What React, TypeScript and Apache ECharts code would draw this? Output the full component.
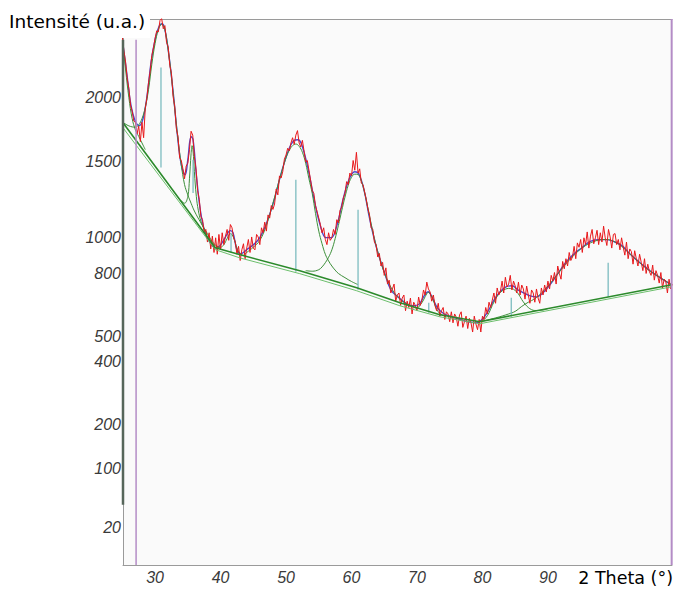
import { useEffect, useRef } from 'react';
import * as echarts from 'echarts';

// ---- axis ranges (2 Theta in degrees, intensity on a square-root scale) ----
const X_MIN = 25.1;
const X_MAX = 108.95;
const Y_MIN_SQRT = 1.0;
const Y_MAX_SQRT = 52.1;

// ---- tick labels ----
const yTicks = [20, 100, 200, 400, 500, 800, 1000, 1500, 2000];
const xTicks = [30, 40, 50, 60, 70, 80, 90];

// ---- observed pattern (red), 25.00° to 109.00° every 0.25° ----
const OBS_START = 25.0;
const OBS_STEP = 0.25;
const observed = [
  2540, 2410, 2310, 2160, 2080, 1940, 1890, 1810, 1800, 1710, 1770, 1650, 1800, 1680, 1910, 2000, 2130, 2230, 2370, 2440, 2530,
  2600, 2590, 2700, 2720, 2620, 2650, 2490, 2450, 2280, 2210, 2010, 1930, 1750, 1690, 1530, 1510, 1450, 1380, 1470, 1490,
  1590, 1730, 1700, 1540, 1450, 1300, 1240, 1130, 1110, 1030, 1050, 975, 1030, 935, 1010, 915, 1000, 905, 1020, 930,
  1030, 960, 1010, 1050, 985, 1080, 1060, 1000, 975, 905, 950, 870, 930, 965, 880, 940, 990, 915, 1005, 940,
  930, 1020, 1005, 960, 1060, 1030, 1095, 1040, 1140, 1120, 1200, 1175, 1210, 1310, 1270, 1400, 1385, 1430, 1520, 1550,
  1600, 1580, 1640, 1680, 1630, 1700, 1735, 1640, 1610, 1660, 1580, 1500, 1510, 1440, 1370, 1300, 1280, 1200, 1160, 1120,
  1080, 1030, 1060, 990, 960, 1030, 985, 1000, 1050, 1020, 1110, 1090, 1170, 1190, 1250, 1280, 1360, 1340, 1420, 1400,
  1510, 1440, 1570, 1420, 1450, 1350, 1340, 1290, 1240, 1180, 1140, 1060, 1050, 975, 960, 890, 910, 840, 860, 790,
  830, 745, 765, 700, 720, 745, 660, 690, 700, 640, 675, 690, 615, 660, 630, 675, 600, 655, 640, 615,
  680, 640, 665, 715, 690, 755, 720, 705, 660, 690, 640, 615, 650, 590, 615, 630, 575, 610, 600, 565,
  610, 560, 600, 585, 545, 595, 610, 540, 565, 590, 535, 580, 560, 520, 590, 555, 530, 575, 520, 590,
  575, 630, 600, 655, 630, 665, 700, 650, 725, 690, 710, 760, 700, 780, 730, 745, 790, 715, 760, 735,
  700, 755, 690, 740, 720, 670, 735, 690, 650, 715, 700, 655, 720, 675, 650, 725, 690, 740, 705, 760,
  720, 790, 760, 805, 745, 840, 800, 770, 865, 825, 880, 840, 915, 870, 890, 950, 880, 970, 945, 990,
  915, 1000, 960, 1035, 940, 1010, 1050, 965, 1000, 1045, 960, 1030, 975, 1070, 1000, 955, 1050, 1005, 940, 1020,
  1025, 960, 990, 930, 1000, 945, 900, 975, 880, 935, 920, 850, 925, 880, 840, 905, 860, 815, 880, 800,
  850, 810, 790, 845, 765, 815, 790, 750, 805, 725, 770, 760, 700, 770, 720, 745,
];

// ---- calculated profile (blue) [2θ, intensity] ----
const fitCurve = [
  [25.1, 2470], [25.7, 2199], [26.3, 1943], [27.0, 1806], [27.6, 1774], [28.2, 1838], [28.8, 2027], [29.4, 2314],
  [30.0, 2517], [30.6, 2641], [31.1, 2669], [31.5, 2612], [32.1, 2378], [32.8, 2027], [33.4, 1703], [34.0, 1479],
  [34.6, 1408], [35.0, 1516], [35.5, 1688], [35.8, 1665], [36.3, 1408], [36.9, 1173], [37.6, 1036], [38.4, 971],
  [39.2, 942], [39.9, 954], [40.7, 1001], [41.5, 1043], [41.9, 1030], [42.5, 931], [43.1, 908], [44.0, 931],
  [45.0, 959], [46.0, 1001], [47.1, 1097], [48.2, 1238], [49.2, 1408], [50.3, 1575], [51.2, 1658], [51.8, 1665],
  [52.4, 1627], [53.4, 1443], [54.3, 1238], [55.2, 1079], [56.1, 1001], [56.9, 1001], [57.8, 1079], [58.7, 1238],
  [59.6, 1373], [60.5, 1429], [61.1, 1415], [61.9, 1305], [62.8, 1110], [63.9, 931], [65.0, 809], [66.0, 716],
  [67.1, 681], [68.2, 652], [69.2, 638], [70.2, 643], [71.1, 686], [71.7, 706], [72.3, 681], [73.1, 629],
  [74.1, 601], [75.3, 587], [76.6, 574], [77.8, 565], [79.0, 560], [79.9, 574], [80.8, 610], [81.8, 667],
  [82.7, 706], [83.6, 731], [84.5, 736], [85.4, 716], [86.3, 701], [87.3, 686], [88.2, 681], [89.1, 696],
  [90.3, 741], [91.5, 799], [92.7, 858], [94.0, 908], [95.2, 942], [96.4, 977], [97.6, 989], [98.9, 989],
  [100.1, 977], [101.3, 954], [102.5, 908], [103.7, 869], [105.0, 831], [106.2, 799], [107.4, 772], [108.9, 741],
];

// ---- backgrounds (green) ----
const bgMain = [[25.1, 1797], [39.2, 942], [43.0, 902], [52.1, 815], [60.8, 726], [67.4, 652], [73.5, 596], [79.6, 565], [108.9, 741]];
const bgAlt = [[25.1, 1757], [39.2, 931], [43.0, 884], [52.1, 799], [60.8, 711], [67.4, 638], [73.5, 587], [79.6, 556], [108.9, 731]];

// ---- individual peaks on background (green) ----
const peak24 = [[25.1, 2465], [25.5, 2240], [26.0, 2000], [26.5, 1830], [27.0, 1740], [27.5, 1690], [28.0, 1640], [28.5, 1590]];
const peak31 = [
  [25.1, 1800], [26.0, 1772], [27.0, 1762], [27.5, 1780], [28.0, 1830], [28.5, 1920], [29.0, 2070], [29.5, 2290],
  [30.0, 2480], [30.5, 2610], [31.0, 2665], [31.5, 2610], [32.0, 2420], [32.5, 2180], [33.0, 1910], [33.5, 1670],
  [34.0, 1480], [34.5, 1340], [35.0, 1270], [35.5, 1215], [36.0, 1165], [37.0, 1090], [38.0, 1025], [39.0, 965], [40.0, 940],
];
const peak35 = [
  [34.0, 1232], [34.5, 1215], [35.0, 1260], [35.25, 1380], [35.5, 1560], [35.65, 1620], [35.8, 1580], [36.0, 1430],
  [36.3, 1260], [36.6, 1170], [37.0, 1100], [37.5, 1050], [38.0, 1015],
];
const peak41 = [[39.5, 946], [40.0, 945], [40.5, 960], [41.0, 995], [41.5, 1025], [42.0, 1000], [42.5, 940], [43.0, 908], [43.5, 898]];
const peak51 = [
  [43.5, 900], [44.0, 915], [45.0, 945], [46.0, 985], [47.0, 1075], [48.0, 1215], [49.0, 1375], [50.0, 1530],
  [50.5, 1585], [51.0, 1620], [51.5, 1632], [52.0, 1615], [52.5, 1570], [53.0, 1490], [53.5, 1380], [54.0, 1280],
  [54.5, 1150], [55.0, 1040], [55.5, 965], [56.0, 905], [56.5, 868], [57.0, 840], [57.5, 818], [58.0, 800],
  [59.0, 778], [60.0, 758], [61.0, 742],
];
const peak61 = [
  [53.0, 815], [54.0, 812], [55.0, 820], [55.5, 835], [56.0, 858], [56.5, 888], [57.0, 930], [57.5, 995],
  [58.0, 1075], [58.5, 1165], [59.0, 1255], [59.5, 1335], [60.0, 1390], [60.5, 1412], [61.0, 1410], [61.5, 1365],
  [62.0, 1285], [62.5, 1185], [63.0, 1085], [63.5, 995], [64.0, 920], [64.5, 860], [65.0, 805], [66.0, 730],
  [67.0, 682], [68.0, 655], [69.0, 640],
];
const peak72 = [[69.5, 630], [70.0, 628], [70.5, 642], [71.0, 666], [71.5, 697], [71.75, 703], [72.0, 696], [72.5, 662], [73.0, 622], [73.5, 602], [74.0, 594]];
const peak85 = [
  [79.5, 566], [80.0, 570], [80.5, 582], [81.0, 605], [81.5, 640], [82.0, 670], [82.5, 695], [83.0, 710],
  [83.5, 719], [84.0, 723], [84.5, 722], [85.0, 712], [85.5, 695], [86.0, 668], [86.5, 646], [87.0, 630],
  [87.5, 620], [88.0, 616], [89.0, 617], [90.0, 625],
];
const peak99 = [
  [79.6, 565], [82.0, 582], [84.0, 600], [85.0, 612], [86.0, 635], [87.0, 655], [88.0, 672], [89.0, 700],
  [90.0, 735], [91.0, 775], [92.0, 820], [93.0, 862], [94.0, 900], [95.0, 935], [96.0, 960], [97.0, 978],
  [98.0, 988], [99.0, 990], [100.0, 980], [101.0, 958], [102.0, 925], [103.0, 890], [104.0, 858], [105.0, 828],
  [106.0, 803], [107.0, 782], [108.0, 760], [108.9, 742],
];
const peakCurves = [peak24, peak31, peak35, peak41, peak51, peak61, peak72, peak85, peak99];

// ---- peak position sticks (cyan): [2θ, base intensity, top intensity] ----
const sticks = [
  [30.9, 1460, 2261], [35.8, 1283, 1516], [41.6, 913, 1030], [51.5, 809, 1373],
  [61.0, 716, 1173], [71.8, 605, 652], [84.4, 587, 677], [99.2, 681, 858],
];

// ---- range markers ----
const markerLeft = [[27.1, 1], [27.1, 2517]];
const markerRight = [[108.9, 1], [108.9, 2715]];
const leftBar = [[25.1, 44], [25.1, 2517]];

const toSq = (pts: number[][]) => pts.map((p) => [p[0], Math.sqrt(p[1])]);

const lineSeries = (data: number[][], color: string, width: number, z: number, smooth: boolean | number = false, clip = true) => ({
  type: 'line',
  data: toSq(data),
  showSymbol: false,
  symbol: 'none',
  smooth,
  clip,
  silent: true,
  z,
  lineStyle: { color, width },
  itemStyle: { color },
});

export default function App() {
  const ref = useRef<HTMLDivElement>(null);

  useEffect(() => {
    if (!ref.current) return;
    const chart = echarts.init(ref.current, undefined, { renderer: 'svg' });

    const obsData = observed.map((v, i) => [OBS_START + i * OBS_STEP, Math.sqrt(v)]);

    const series: any[] = [
      lineSeries(fitCurve, '#4a48d2', 1.4, 2, 0.4),
      ...peakCurves.map((c) => lineSeries(c, '#3d8f3a', 1, 3, 0.4)),
      {
        type: 'line',
        data: obsData,
        showSymbol: false,
        symbol: 'none',
        silent: true,
        z: 4,
        lineStyle: { color: '#e8181b', width: 1 },
        itemStyle: { color: '#e8181b' },
      },
      lineSeries(bgAlt, '#6cbf6c', 1, 5),
      lineSeries(bgMain, '#2b8a2b', 1.6, 5),
      {
        type: 'custom',
        coordinateSystem: 'cartesian2d',
        silent: true,
        z: 5,
        data: sticks.map((s) => [s[0], Math.sqrt(s[1]), Math.sqrt(s[2])]),
        encode: { x: 0, y: [1, 2] },
        renderItem: (_p: any, api: any) => {
          const a = api.coord([api.value(0), api.value(1)]);
          const b = api.coord([api.value(0), api.value(2)]);
          return {
            type: 'line',
            shape: { x1: a[0], y1: a[1], x2: b[0], y2: b[1] },
            style: { stroke: '#7dbcc0', lineWidth: 1.3 },
          };
        },
      },
      lineSeries(markerLeft, '#b48cc6', 1.5, 6),
      lineSeries(markerRight, '#b48cc6', 2, 6, false, false),
      lineSeries(leftBar, '#56665a', 2.5, 6, false, false),
      {
        type: 'custom',
        coordinateSystem: 'cartesian2d',
        silent: true,
        clip: false,
        z: 10,
        data: yTicks.map((v) => [X_MIN, Math.sqrt(v), v]),
        encode: { x: 0, y: 1 },
        renderItem: (_p: any, api: any) => {
          const p = api.coord([api.value(0), api.value(1)]);
          return {
            type: 'text',
            x: p[0] - 2,
            y: p[1],
            style: {
              text: String(api.value(2)),
              fill: '#3a3a3a',
              font: 'italic 16px "Liberation Sans", Arial, sans-serif',
              align: 'right',
              verticalAlign: 'middle',
            },
          };
        },
      },
      {
        type: 'custom',
        coordinateSystem: 'cartesian2d',
        silent: true,
        clip: false,
        z: 10,
        data: xTicks.map((v) => [v, Y_MIN_SQRT, v]),
        encode: { x: 0, y: 1 },
        renderItem: (_p: any, api: any) => {
          const p = api.coord([api.value(0), api.value(1)]);
          return {
            type: 'text',
            x: p[0],
            y: p[1] + 12,
            style: {
              text: String(api.value(2)),
              fill: '#3a3a3a',
              font: 'italic 16px "Liberation Sans", Arial, sans-serif',
              align: 'center',
              verticalAlign: 'middle',
            },
          };
        },
      },
    ];

    const axisLineStyle = { show: true, onZero: false, lineStyle: { color: '#9a9a9a', width: 1 } };

    chart.setOption({
      animation: false,
      backgroundColor: '#ffffff',
      grid: { left: 123, right: 3, top: 19, bottom: 25, show: true, backgroundColor: '#fafafa', borderWidth: 0 },
      xAxis: [
        {
          type: 'value', min: X_MIN, max: X_MAX, position: 'bottom',
          axisLine: axisLineStyle, axisTick: { show: false }, axisLabel: { show: false }, splitLine: { show: false },
        },
        {
          type: 'value', min: X_MIN, max: X_MAX, position: 'top',
          axisLine: axisLineStyle, axisTick: { show: false }, axisLabel: { show: false }, splitLine: { show: false },
        },
      ],
      yAxis: {
        type: 'value', min: Y_MIN_SQRT, max: Y_MAX_SQRT,
        axisLine: axisLineStyle, axisTick: { show: false }, axisLabel: { show: false }, splitLine: { show: false },
      },
      graphic: [
        { type: 'rect', left: 0, top: 0, shape: { width: 150, height: 38 }, style: { fill: '#ffffff' }, z: 100 },
        { type: 'text', left: 9, top: 12, style: { text: 'Intensité (u.a.)', font: '18.5px "DejaVu Sans", sans-serif', fill: '#000' }, z: 101 },
        { type: 'text', right: 2, top: 569, style: { text: '2 Theta (°)', font: '17.5px "DejaVu Sans", sans-serif', fill: '#000' }, z: 101 },
      ],
      series,
    });

    return () => chart.dispose();
  }, []);

  return (
    <div
      ref={ref}
      style={{ position: 'fixed', left: 0, top: 0, width: 675, height: 590, background: '#fff' }}
    />
  );
}
